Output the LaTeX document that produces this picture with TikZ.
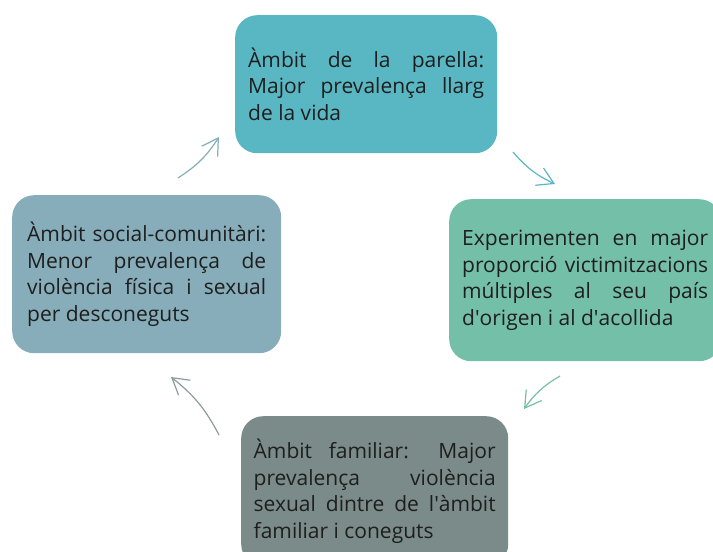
\documentclass[tikz,border=0pt]{standalone}
\usepackage{fontspec}
\setmainfont{Open Sans}
\usetikzlibrary{arrows.meta}

\definecolor{parellacol}{HTML}{59B7C3}
\definecolor{origencol}{HTML}{74BFA7}
\definecolor{familiarcol}{HTML}{7A8B8A}
\definecolor{socialcol}{HTML}{86ADB9}
\definecolor{textcol}{HTML}{1E1E1E}
\definecolor{fletxagris}{HTML}{8C9B9B}

\begin{document}
\begin{tikzpicture}[x=1pt,y=-1pt,
  every node/.style={font=\fontsize{21}{26.5}\selectfont, text=textcol},
  caixa/.style={anchor=north west, rounded corners=22pt, align=justify, inner ysep=0pt},
  fletxa/.style={line width=1.2pt, -{Straight Barb[length=16pt,width=19pt,line width=1.2pt]}, bend right=12}]
  \useasboundingbox (0,0) rectangle (713,552);
  \clip (0,0) rectangle (713,552);
  % les quatre caixes
  \node[caixa, fill=parellacol, text width=236pt, inner xsep=13pt, minimum height=138pt] (parella) at (235,15)
    {Àmbit de la parella:\linebreak Major prevalença llarg\linebreak de la vida};
  \node[caixa, fill=origencol, text width=246pt, inner xsep=13pt, minimum height=162pt] (origen) at (449,199)
    {Experimenten en major\linebreak proporció victimitzacions\linebreak múltiples al seu país\linebreak d\textquotesingle origen i al d\textquotesingle acollida};
  \node[caixa, fill=familiarcol, text width=242pt, inner xsep=12.5pt, minimum height=150pt] (familiar) at (241,416)
    {Àmbit familiar: Major\linebreak prevalença violència\linebreak sexual dintre de l\textquotesingle àmbit\linebreak familiar i coneguts};
  \node[caixa, fill=socialcol, text width=239pt, inner xsep=15pt, minimum height=158pt] (social) at (12,195)
    {Àmbit social-comunitàri:\linebreak Menor prevalença de\linebreak violència física i sexual\linebreak per desconeguts};
  % fletxes del cicle
  \coordinate (c1a) at (178,178); \coordinate (c1b) at (219,137);
  \coordinate (c2a) at (513,152); \coordinate (c2b) at (555,184);
  \coordinate (c3a) at (560,376); \coordinate (c3b) at (524,409);
  \coordinate (c4a) at (219,435); \coordinate (c4b) at (171,377);
  \draw[fletxa, socialcol] (c1a) to (c1b);
  \draw[fletxa, parellacol] (c2a) to (c2b);
  \draw[fletxa, origencol] (c3a) to (c3b);
  \draw[fletxa, fletxagris] (c4a) to (c4b);
\end{tikzpicture}
\end{document}
